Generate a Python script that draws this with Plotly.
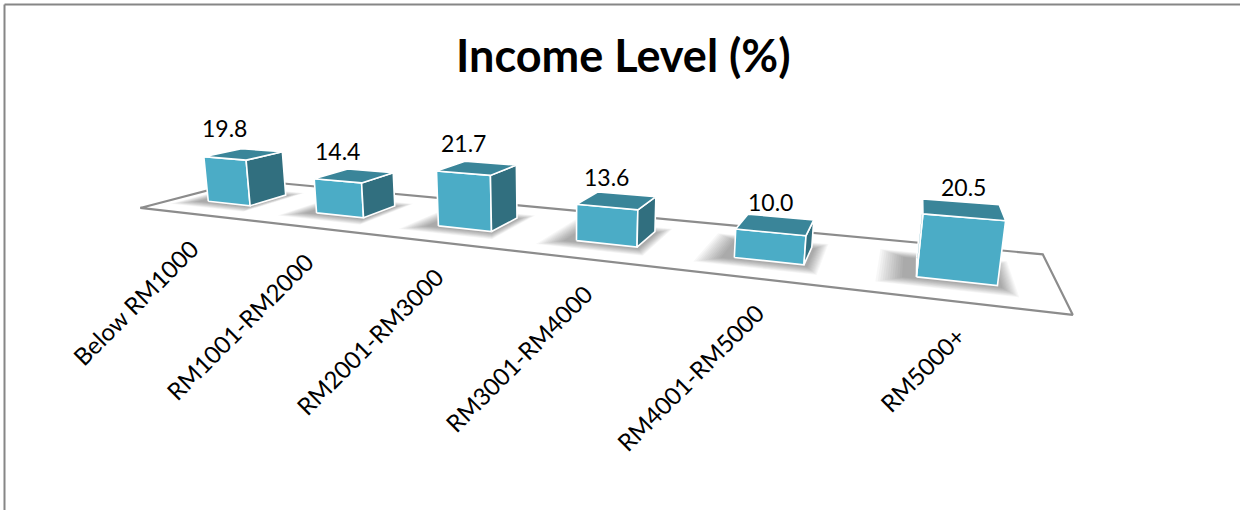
import numpy as np
import plotly.graph_objects as go

# ---- chart data ----
categories = ["Below RM1000", "RM1001-RM2000", "RM2001-RM3000",
              "RM3001-RM4000", "RM4001-RM5000", "RM5000+"]
values = [19.8, 14.4, 21.7, 13.6, 10.0, 20.5]
title_text = "Income Level (%)"

# ---- canvas ----
WIDTH, HEIGHT = 1240, 510
FONT = "Lato"

# ---- perspective camera ----
# world units: one category slot = 1 along X, up = +Y, depth = +Z
yaw = np.radians(22.04)
pitch = np.radians(13.7)
focal = 862.0
principal = (560.0, 215.0)
eye = np.array([5.181, 1.452, -4.565])

floor_depth = 1.12
bar_size = 0.40
unit_height = 0.01737   # world height per percentage point

FRONT_COLOR = "#4BACC6"
TOP_COLOR = "#3A8599"
SIDE_COLOR = "#316F7F"
LEFT_COLOR = "#3F97AE"
FLOOR_LINE = "#8C8C8C"
BORDER = "#868686"

cyw, syw = np.cos(yaw), np.sin(yaw)
cpt, spt = np.cos(pitch), np.sin(pitch)
R = np.array([[cyw, 0.0, syw],
              [syw * spt, -cpt, -cyw * spt],
              [-syw * cpt, -spt, cyw * cpt]])


def project(pts):
    pts = np.asarray(pts, dtype=float).reshape(-1, 3)
    c = (pts - eye) @ R.T
    u = principal[0] + focal * c[:, 0] / c[:, 2]
    v = principal[1] + focal * c[:, 1] / c[:, 2]
    return u, v


def polygon(pts, fill, line_color=None, line_width=0.0):
    u, v = project(pts)
    u = np.append(u, u[0])
    v = np.append(v, v[0])
    return go.Scatter(
        x=u, y=v, mode="lines", fill="toself", fillcolor=fill,
        line=dict(color=line_color or "rgba(0,0,0,0)", width=line_width),
        hoverinfo="skip", showlegend=False,
    )


fig = go.Figure()
n = len(categories)

# floor
floor = [(0, 0, 0), (n, 0, 0), (n, 0, floor_depth), (0, 0, floor_depth)]
fig.add_trace(polygon(floor, "white", FLOOR_LINE, 2.2))

zc = floor_depth / 2
z0, z1 = zc - bar_size / 2, zc + bar_size / 2

# soft contact shadows under the bars (stacked translucent rings)
for i in range(n):
    x0 = i + 0.5 - bar_size / 2
    x1 = i + 0.5 + bar_size / 2
    for k in range(12):
        g = 0.004 + 0.012 * k
        pts = [(x0 - 0.07 - g, 0, z0 - 0.035 - g), (x1 + 0.02 + 0.5 * g, 0, z0 - 0.035 - g),
               (x1 + 0.02 + 0.5 * g, 0, z1 - 0.02 + g), (x0 - 0.07 - g, 0, z1 - 0.02 + g)]
        fig.add_trace(polygon(pts, "rgba(0,0,0,0.032)"))

# bars as boxes, only the faces turned toward the eye
for i, val in enumerate(values):
    x0 = i + 0.5 - bar_size / 2
    x1 = i + 0.5 + bar_size / 2
    h = val * unit_height
    faces = [
        ([(x0, 0, z0), (x1, 0, z0), (x1, h, z0), (x0, h, z0)], (0, 0, -1), FRONT_COLOR),
        ([(x1, 0, z0), (x1, 0, z1), (x1, h, z1), (x1, h, z0)], (1, 0, 0), SIDE_COLOR),
        ([(x0, 0, z1), (x0, 0, z0), (x0, h, z0), (x0, h, z1)], (-1, 0, 0), LEFT_COLOR),
        ([(x0, h, z0), (x1, h, z0), (x1, h, z1), (x0, h, z1)], (0, 1, 0), TOP_COLOR),
    ]
    for pts, normal, color in faces:
        centre = np.mean(np.asarray(pts, dtype=float), axis=0)
        if np.dot(centre - eye, normal) < 0:
            fig.add_trace(polygon(pts, color, "white", 1.6))

annotations = []

# value labels above the front-top edge of each bar
for i, val in enumerate(values):
    u, v = project([(i + 0.5, val * unit_height, z0)])
    annotations.append(dict(
        x=u[0], y=v[0], xref="x", yref="y", text=f"{val:.1f}",
        showarrow=False, xanchor="center", yanchor="middle", yshift=30,
        font=dict(family=FONT, size=23, color="black"),
    ))

# slanted category labels along the front edge of the floor
for i, cat in enumerate(categories):
    u, v = project([(i + 0.5, 0, 0)])
    annotations.append(dict(
        x=u[0], y=v[0], xref="x", yref="y", text=cat, textangle=-45,
        showarrow=False, xanchor="right", yanchor="top", xshift=14, yshift=-17,
        font=dict(family=FONT, size=24, color="black"),
    ))

annotations.append(dict(
    x=623, y=55, xref="x", yref="y", text=f"<b>{title_text}</b>",
    showarrow=False, xanchor="center", yanchor="middle",
    font=dict(family=FONT, size=45, color="black"),
))

shapes = [
    dict(type="line", xref="x", yref="y", x0=4.5, y0=4.5, x1=WIDTH, y1=4.5,
         line=dict(color=BORDER, width=2)),
    dict(type="line", xref="x", yref="y", x0=4.5, y0=4.5, x1=4.5, y1=HEIGHT,
         line=dict(color=BORDER, width=2)),
]

fig.update_layout(
    width=WIDTH, height=HEIGHT,
    margin=dict(l=0, r=0, t=0, b=0),
    paper_bgcolor="white", plot_bgcolor="white",
    xaxis=dict(range=[0, WIDTH], visible=False, fixedrange=True),
    yaxis=dict(range=[HEIGHT, 0], visible=False, fixedrange=True),
    annotations=annotations,
    shapes=shapes,
    showlegend=False,
)

fig.write_html("out.html")
